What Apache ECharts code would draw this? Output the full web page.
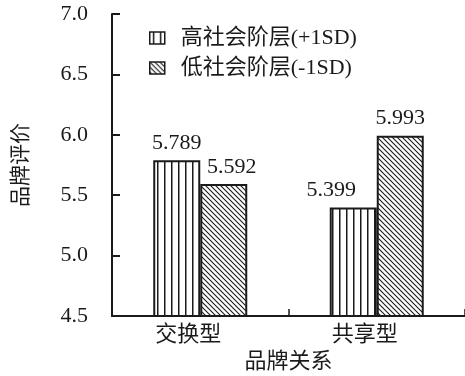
<!DOCTYPE html>
<html>
<head>
<meta charset="utf-8">
<script src="https://cdn.jsdelivr.net/npm/echarts@6/dist/echarts.min.js"></script>
<style>
  html, body { margin: 0; padding: 0; background: #fff; }
  #chart { width: 465px; height: 376px; }
</style>
</head>
<body>
<div id="chart"></div>
<script>
// Brand evaluation by brand relationship and social class
const categories = ['交换型', '共享型'];
const seriesNames = ['高社会阶层(+1SD)', '低社会阶层(-1SD)'];
const highValues = [5.789, 5.399];
const lowValues = [5.592, 5.993];
const yTicks = [4.5, 5.0, 5.5, 6.0, 6.5, 7.0];

const FONT = "'Liberation Serif', 'Noto Sans CJK SC', serif";
const INK = '#1a1a1a';

// Vertical stripe fill
function verticalPattern() {
  const c = document.createElement('canvas');
  c.width = 7; c.height = 4;
  const g = c.getContext('2d');
  g.fillStyle = '#fff'; g.fillRect(0, 0, 7, 4);
  g.fillStyle = INK; g.fillRect(3, 0, 1.5, 4);
  return c;
}
// Diagonal hatch fill (top-left to bottom-right)
function diagonalPattern() {
  const s = 5;
  const c = document.createElement('canvas');
  c.width = s; c.height = s;
  const g = c.getContext('2d');
  g.fillStyle = '#fff'; g.fillRect(0, 0, s, s);
  g.strokeStyle = INK; g.lineWidth = 1.1;
  g.beginPath();
  g.moveTo(-1, -1); g.lineTo(s + 1, s + 1);
  g.moveTo(-1, s - 1); g.lineTo(1, s + 1);
  g.moveTo(s - 1, -1); g.lineTo(s + 1, 1);
  g.stroke();
  return c;
}

const highFill = { image: verticalPattern(), repeat: 'repeat' };
const lowFill = { image: diagonalPattern(), repeat: 'repeat' };

// per-bar label nudges so the numbers sit clear of neighbouring bars
const highLabelOffsets = [[0, 0], [-22, 0]];
const lowLabelOffsets = [[8, 0], [0, 0]];

const labelBase = {
  show: true, position: 'top', distance: 6,
  fontFamily: FONT, fontSize: 22, color: INK,
  formatter: p => p.value.toFixed(3)
};

const chart = echarts.init(document.getElementById('chart'), null, { renderer: 'canvas' });
chart.setOption({
  animation: false,
  backgroundColor: '#fff',
  grid: { left: 112, right: 0, top: 14, bottom: 60, containLabel: false, outerBoundsMode: 'none' },
  legend: {
    orient: 'vertical', left: 144, top: 22,
    itemWidth: 15, itemHeight: 12, itemGap: 8,
    textStyle: { fontFamily: FONT, fontSize: 22, color: INK, padding: [0, 0, 0, 11] },
    data: seriesNames.map((n, i) => ({
      name: n, icon: 'rect',
      itemStyle: { color: i === 0 ? highFill : lowFill, borderColor: INK, borderWidth: 1.5 }
    }))
  },
  xAxis: {
    type: 'category', data: categories,
    name: '品牌关系', nameLocation: 'middle', nameGap: 35,
    nameTextStyle: { fontFamily: FONT, fontSize: 22, color: INK },
    axisLine: { lineStyle: { color: INK, width: 2 } },
    axisTick: { show: true, inside: true, length: 7, lineStyle: { color: INK, width: 1.5 } },
    axisLabel: { fontFamily: FONT, fontSize: 22, color: INK, margin: 8, padding: [0, 24, 0, 0] }
  },
  yAxis: {
    type: 'value', min: yTicks[0], max: yTicks[yTicks.length - 1], interval: 0.5,
    name: '品牌评价', nameLocation: 'middle', nameGap: 80, nameRotate: 90,
    nameTextStyle: { fontFamily: FONT, fontSize: 21, color: INK },
    axisLine: { show: true, lineStyle: { color: INK, width: 2 } },
    axisTick: { show: true, inside: true, length: 8, lineStyle: { color: INK, width: 2 } },
    axisLabel: { fontFamily: FONT, fontSize: 22, color: INK, margin: 24, formatter: v => v.toFixed(1) },
    splitLine: { show: false }
  },
  series: [
    {
      name: seriesNames[0], type: 'bar', barWidth: 47, barGap: '0%',
      itemStyle: { color: highFill, borderColor: INK, borderWidth: 2 },
      data: highValues.map((v, i) => ({ value: v, label: Object.assign({}, labelBase, { offset: highLabelOffsets[i] }) }))
    },
    {
      name: seriesNames[1], type: 'bar', barWidth: 47, barGap: '0%',
      itemStyle: { color: lowFill, borderColor: INK, borderWidth: 2 },
      data: lowValues.map((v, i) => ({ value: v, label: Object.assign({}, labelBase, { offset: lowLabelOffsets[i] }) }))
    }
  ]
});
</script>
</body>
</html>
